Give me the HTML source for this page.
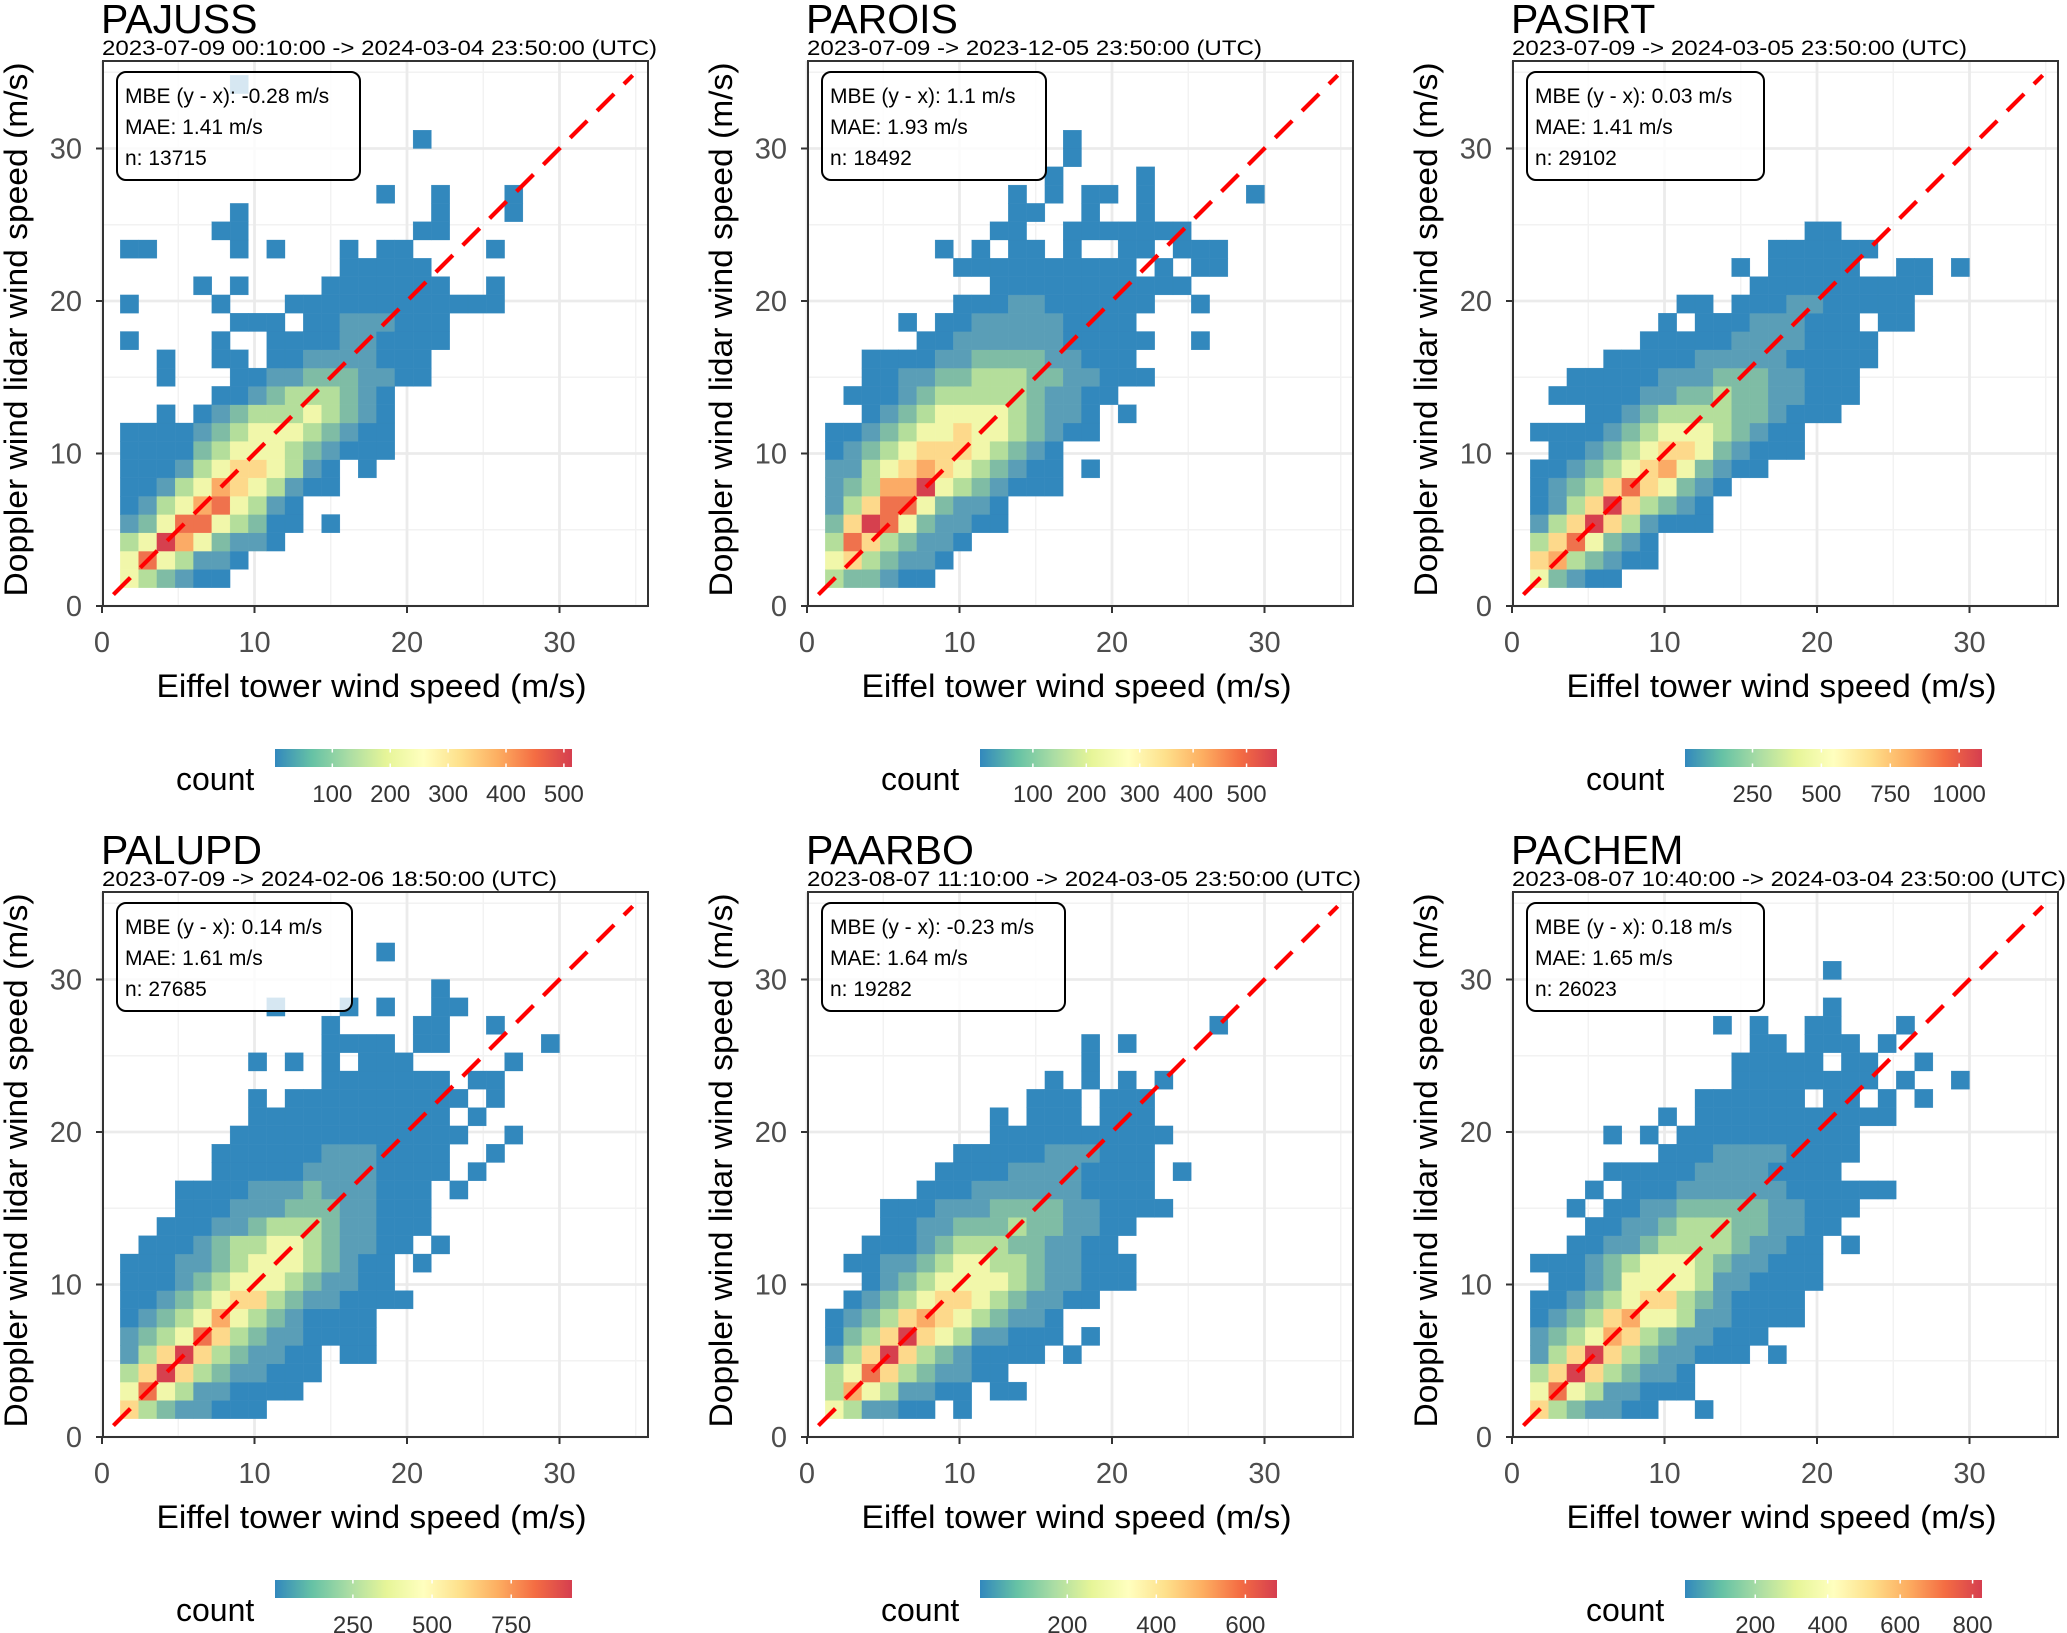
<!DOCTYPE html>
<html>
<head>
<meta charset="utf-8">
<style>
html,body{margin:0;padding:0;background:#fff;}
svg{display:block;font-family:"Liberation Sans",Arial,sans-serif;}
</style>
</head>
<body>
<svg id="fig" width="2067" height="1633" viewBox="0 0 2067 1633" xmlns="http://www.w3.org/2000/svg">
<defs>
<linearGradient id="spectral" x1="0" x2="1" y1="0" y2="0">
<stop offset="0" stop-color="#3288BD"/>
<stop offset="0.125" stop-color="#66C2A5"/>
<stop offset="0.25" stop-color="#ABDDA4"/>
<stop offset="0.375" stop-color="#E6F598"/>
<stop offset="0.5" stop-color="#FFFFBF"/>
<stop offset="0.625" stop-color="#FEE08B"/>
<stop offset="0.75" stop-color="#FDAE61"/>
<stop offset="0.875" stop-color="#F46D43"/>
<stop offset="1" stop-color="#D53E4F"/>
</linearGradient>
</defs>
</svg>
<script>
// ---- data ----
const stations = ["PAJUSS","PAROIS","PASIRT","PALUPD","PAARBO","PACHEM"];
const periods = [
 "2023-07-09 00:10:00 -> 2024-03-04 23:50:00 (UTC)",
 "2023-07-09 -> 2023-12-05 23:50:00 (UTC)",
 "2023-07-09 -> 2024-03-05 23:50:00 (UTC)",
 "2023-07-09 -> 2024-02-06 18:50:00 (UTC)",
 "2023-08-07 11:10:00 -> 2024-03-05 23:50:00 (UTC)",
 "2023-08-07 10:40:00 -> 2024-03-04 23:50:00 (UTC)"];
const mbeValues = ["-0.28","1.1","0.03","0.14","-0.23","0.18"];
const maeValues = ["1.41","1.93","1.41","1.61","1.64","1.65"];
const nValues = ["13715","18492","29102","27685","19282","26023"];
const axisTicks = [0,10,20,30];
const binWidth = 1.2;
const cbMin = [1,1,5,4,4,6];
const cbMax = [514,557,1083,942,671,826];
const cbTicks = [[100,200,300,400,500],[100,200,300,400,500],[250,500,750,1000],[250,500,750],[200,400,600],[200,400,600,800]];
// binned count levels (1 = lowest, 9 = highest), rows bottom-up, columns left-right
const gridPAJUSS = ["543211","5854221","459753221","2358854311.1","1245785421","112457654211","111245665421.1","111134555432111","111123455543211","..1.12344454321",".....1123444321","..1...11223332211","..1..11.112222111","1....1..1111221111","......111.11222111","1....1...111111111111","....1.1....1111111..1","............11111","11....1.1...1.11....1",".....11.........11","......1..........1...1","..............1..1...1","","","................1","","","......1"];
const gridPAROIS = ["433211","5643221","48643221","3698532211","2468853221","2347795432111","2245676543211.1","1234566654321","112345565543211","..1234555543221.1",".111234444432211","..1122334443322111","..111122333322111",".....1122222211111..1","....1.11222221111",".......11122111111..1",".........11111111111",".......1111111111.1.11","......1.1.11.1..11.111",".........11..1111111","..........11..1..1","..........1.1.11.1.....1","............1....1",".............1",".............1"];
const gridPASIRT = ["53211","6743211","4685321","2469642111","1246964321","12346865321","1123456753211",".11234566532111","111123455543211","...11234444332111",".11111223343322111","..1111122233322111","....111112222211111","......1111122221111",".......1.111222111.11","........11.1112211111","............1111111111","...........1.11111..11.1",".............111111","...............11"];
const gridPALUPD = ["64322111","5854221111","46964322111","24696432211.11","23458643221111","12345754321111","1123456643221111","111234555432211","111223455543211.1",".111234455432211.1","..111223444322111","...11122233322111","...11112223222111.1",".....1111122221111.1",".....1111112221111..1","......1111111111111..1",".......11111111111.1",".......1.1111111111.1","...........1111111.11",".......1.1.1.111.....1","...........1111.11.....1","...........1....11..1","........1...1.1..11",".................1","","..............1"];
const gridPAARBO = ["542211.1","47542211.11","4586432211","246964321111.1","1346965422111.1","1234676543221",".12345665432211","..123455554322111",".1122345544322111","..11123444332211","...11223334332211","...1112223333221111",".....1112222221111","......111122221111.1",".......11111222111",".........1111111111",".........1.111.111","...........111.111","............1.1.1.1","..............1","..............1.1",".....................1"];
const gridPACHEM = ["6432211..1","585422111","469643221","246964322111.1","2345764322111","123467554221111","112345664321111",".112355554221111","1112345554322111","..11223444432211.1","...11223444332211","..1.11223333322111","...1.111222222111111","....1111122221111",".......11122221111","....1.1.1111111111",".......1.11111111111",".........111111.11.1.1","...........11111111.1..1","...........11111.11..1","............11.111.1","..........1.1..11...1","................1","","................1"];
const grids = [gridPAJUSS,gridPAROIS,gridPASIRT,gridPALUPD,gridPAARBO,gridPACHEM];
const levelColors = ["#3288BD","#5A9EB7","#7FBCA5","#B4DE9B","#F1F7AA","#FDD98B","#FBAB66","#EF724D","#D6404E"];
</script>
<script>
const NS="http://www.w3.org/2000/svg";
const svg=document.getElementById('fig');
const FS=545, K=15.25;
const boxW=[243,224,237,235,243,237];
const subW=[555,455,455,455,554,554];
function mk(tag,attrs,parent){const e=document.createElementNS(NS,tag);for(const k in attrs)e.setAttribute(k,attrs[k]);(parent||svg).appendChild(e);return e;}
function txt(s,attrs,parent){const e=mk('text',attrs,parent);e.textContent=s;return e;}

stations.forEach((name,p)=>{
  const col=p%3,row=Math.floor(p/3);
  const fx=103+col*705, fy=61+row*831, fb=fy+FS;
  const x0px=fx-1;
  const xS=v=>x0px+v*K, yS=v=>fb-v*K;
  const g=mk('g',{});
  
  

  const t=txt(name,{x:fx-2,y:fy-28,'font-size':41,fill:'#000'},g);
  
  
  const st=txt(periods[p],{x:fx-1,y:fy-6,'font-size':21,fill:'#000',textLength:subW[p],lengthAdjust:'spacingAndGlyphs'},g);
  
  

  mk('rect',{x:fx,y:fy,width:FS,height:FS,fill:'#fff'},g);
  [5,15,25,35].forEach(v=>{
    mk('line',{x1:xS(v),x2:xS(v),y1:fy,y2:fb,stroke:'#F2F2F2','stroke-width':1.4},g);
    mk('line',{x1:fx,x2:fx+FS,y1:yS(v),y2:yS(v),stroke:'#F2F2F2','stroke-width':1.4},g);
  });
  axisTicks.forEach(v=>{
    mk('line',{x1:xS(v),x2:xS(v),y1:fy,y2:fb,stroke:'#EBEBEB','stroke-width':2.8},g);
    mk('line',{x1:fx,x2:fx+FS,y1:yS(v),y2:yS(v),stroke:'#EBEBEB','stroke-width':2.8},g);
  });

  const cg=mk('g',{},g);
  
  
  grids[p].forEach((rowStr,r)=>{
    for(let c=0;c<rowStr.length;c++){
      const ch=rowStr[c];
      if(ch<'1'||ch>'9')continue;
      const lv=+ch;
      const bx0=(c+1)*binWidth, by0=(r+1)*binWidth;
      const rc=mk('rect',{x:xS(bx0),y:yS(by0+binWidth),width:binWidth*K,height:binWidth*K,fill:levelColors[lv-1],stroke:levelColors[lv-1],'stroke-width':0.3},cg);
      
      
    }
  });

  const dl=mk('line',{x1:xS(0.75),y1:yS(0.75),x2:xS(34.8),y2:yS(34.8),stroke:'#FF0000','stroke-width':4.2,'stroke-dasharray':'24 14'},g);
  
  

  const sb=mk('g',{},g);
  
  
  mk('rect',{x:fx+14,y:fy+11,width:boxW[p],height:108,rx:9,fill:'#fff','fill-opacity':0.8,stroke:'#000','stroke-width':2},sb);
  txt('MBE (y - x): '+mbeValues[p]+' m/s',{x:fx+22,y:fy+42,'font-size':21,fill:'#000'},sb);
  txt('MAE: '+maeValues[p]+' m/s',{x:fx+22,y:fy+73,'font-size':21,fill:'#000'},sb);
  txt('n: '+nValues[p],{x:fx+22,y:fy+104,'font-size':21,fill:'#000'},sb);

  const fr=mk('rect',{x:fx,y:fy,width:FS,height:FS,fill:'none',stroke:'#333','stroke-width':2},g);
  
  

  axisTicks.forEach(v=>{
    mk('line',{x1:xS(v),x2:xS(v),y1:fb,y2:fb+7,stroke:'#333','stroke-width':2},g);
    mk('line',{x1:fx-7,x2:fx,y1:yS(v),y2:yS(v),stroke:'#333','stroke-width':2},g);
    const xl=txt(String(v),{x:xS(v),y:fb+46,'font-size':29,fill:'#4D4D4D','text-anchor':'middle'},g);
    
    
    const yl=txt(String(v),{x:fx-21,y:yS(v)+10,'font-size':29,fill:'#4D4D4D','text-anchor':'end'},g);
    
    
  });

  const xt=txt('Eiffel tower wind speed (m/s)',{x:fx+FS/2-4,y:fb+91,'font-size':32,fill:'#000','text-anchor':'middle',textLength:430,lengthAdjust:'spacingAndGlyphs'},g);
  
  
  const yt=txt('Doppler wind lidar wind speed (m/s)',{x:0,y:0,'font-size':32,fill:'#000','text-anchor':'middle',textLength:534,lengthAdjust:'spacingAndGlyphs',transform:'translate('+(fx-76)+','+(fy+FS/2-4)+') rotate(-90)'},g);
  
  

  const lg=mk('g',{},g);
  
  
  const bx=275+col*705, by=749+row*831, bw=297, bh=18;
  txt('count',{x:176+col*705,y:by+41,'font-size':32,fill:'#000'},lg);
  const bar=mk('rect',{x:bx,y:by,width:bw,height:bh,fill:'url(#spectral)'},lg);
  
  
  const cS=v=>bx+(v-cbMin[p])/(cbMax[p]-cbMin[p])*bw;
  cbTicks[p].forEach(v=>{
    mk('line',{x1:cS(v),x2:cS(v),y1:by,y2:by+3.5,stroke:'#fff','stroke-width':1.5},lg);
    mk('line',{x1:cS(v),x2:cS(v),y1:by+bh-3.5,y2:by+bh,stroke:'#fff','stroke-width':1.5},lg);
    const cl=txt(String(v),{x:cS(v),y:by+53,'font-size':24,fill:'#333','text-anchor':'middle'},lg);
    
    
  });
});
</script>
</body>
</html>
